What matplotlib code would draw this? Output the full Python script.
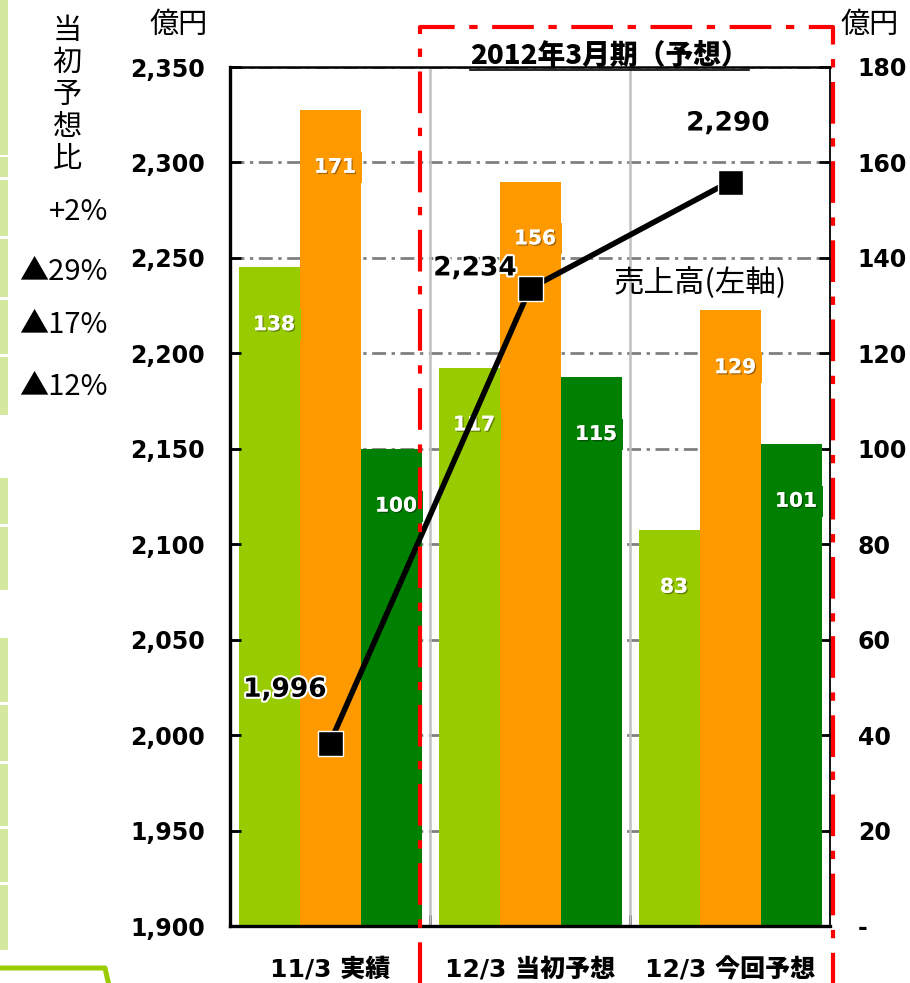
import matplotlib
matplotlib.use('Agg')
import matplotlib.pyplot as plt
import matplotlib.patheffects as pe
from matplotlib.lines import Line2D
from matplotlib.patches import Rectangle
import numpy as np

plt.rcParams['font.family'] = ['DejaVu Sans', 'Noto Sans CJK JP']

# データ
categories = ['11/3 実績', '12/3 当初予想', '12/3 今回予想']
sales = [1996, 2234, 2290]          # 売上高 (左軸, 億円)
seg_a = [138, 117, 83]              # 黄緑 (右軸)
seg_b = [171, 156, 129]             # オレンジ
seg_c = [100, 115, 101]             # 濃い緑
change_labels = ['+2%', '▲29%', '▲17%', '▲12%']

left_ticks = list(range(1900, 2351, 50))
right_ticks = list(range(0, 181, 20))

W, H = 910, 983
fig = plt.figure(figsize=(W / 100, H / 100), dpi=100)
jp = ['Noto Sans CJK JP', 'DejaVu Sans']


def fx(px):
    return px / W


def fy(py):
    return 1 - py / H


ax = fig.add_axes([fx(230), fy(926), fx(830) - fx(230), fy(67) - fy(926)])
ax2 = ax.twinx()

# 棒グラフ (右軸)
x = np.arange(len(categories))
w = 0.305
cols = ['#99cc00', '#ff9900', '#008000']
for off, vals, c in zip([-w, 0, w], [seg_a, seg_b, seg_c], cols):
    ax.bar(x + off, vals, width=w, color=c, zorder=2)
    for xi, v in zip(x + off, vals):
        t = ax.text(xi + 0.025, v - 12, str(v), ha='center', va='center',
                    color='white', fontweight='bold', fontsize=14.5, zorder=3,
                    bbox=dict(boxstyle='square,pad=0.3', fc=c, ec='none'))
        t.set_path_effects([pe.withSimplePatchShadow(offset=(1, -1), shadow_rgbFace='black', alpha=0.35),
                            pe.Normal()])

ax.set_xlim(-0.5, 2.5)
ax.set_ylim(0, 180)
ax.set_axisbelow(True)
ax.grid(axis='y', color='#808080', linestyle=(0, (5, 2, 1.2, 2)), linewidth=2)
for v in [0.5, 1.5]:
    ax.axvline(v, color='#c0c0c0', linewidth=1.8, zorder=1)

ax.yaxis.tick_right()
ax.set_yticks(right_ticks)
ax.set_yticklabels(['-'] + [str(v) for v in right_ticks[1:]], fontweight='bold')
ax.tick_params(axis='y', direction='in', length=8, width=2, pad=20, labelsize=17)
ax.set_xticks(x)
ax.set_xticklabels(categories, fontweight='heavy', fontsize=18)
ax.tick_params(axis='x', length=0, pad=23)
ax.set_xticks([0.5, 1.5], minor=True)
ax.tick_params(axis='x', which='minor', direction='in', length=8, width=2)
for s in ax.spines.values():
    s.set_visible(False)

# 売上高 (左軸)
ax2.set_ylim(1900, 2350)
ax2.yaxis.tick_left()
ax2.set_yticks(left_ticks)
ax2.set_yticklabels([f'{v:,}' for v in left_ticks], fontweight='bold')
ax2.tick_params(axis='y', direction='in', length=8, width=2, pad=18, labelsize=17)
ax2.plot(x, sales, color='black', linewidth=4, marker='s', markersize=18,
         markeredgecolor='white', markeredgewidth=1, zorder=5)
for xi, v, (dx, dy) in zip(x, sales, [(-45, 53), (-55, 20), (-2, 58)]):
    ax2.annotate(f'{v:,}', (xi, v), xytext=(dx, dy), textcoords='offset pixels',
                 ha='center', va='center', fontsize=19, fontweight='heavy',
                 path_effects=[pe.withStroke(linewidth=3, foreground='white')])
ax2.text(1.85, 2237, '売上高(左軸)', ha='center', va='center', fontsize=22, family=jp)

ax2.spines['left'].set_linewidth(2.4)
ax2.spines['bottom'].set_linewidth(2.4)
ax2.spines['top'].set_linewidth(1.8)
ax2.spines['right'].set_linewidth(1.3)

# 単位
fig.text(fx(179), fy(25), '億円', ha='center', va='center', fontsize=21, family=jp)
fig.text(fx(870), fy(25), '億円', ha='center', va='center', fontsize=21, family=jp)

# 予想期間の枠
fig.text(fx(609), fy(56), '2012年3月期（予想）', ha='center', va='center', fontsize=20,
         fontweight='heavy', family=jp)
fig.add_artist(Line2D([fx(470), fx(749)], [fy(70), fy(70)], color='black', linewidth=1.2))
fig.add_artist(Line2D([fx(420), fx(420), fx(833), fx(833)], [fy(1000), fy(27), fy(27), fy(1000)],
                      color='red', linewidth=3, linestyle=(0, (10, 3.5, 2, 3.5)), zorder=10))

# 当初予想比
fig.text(fx(67), fy(95), '当\n初\n予\n想\n比', ha='center', va='center', fontsize=21,
         linespacing=1.08, family=jp)
for lbl, py in zip(change_labels, [212, 272, 325, 387]):
    fig.text(fx(108), fy(py), lbl, ha='right', va='center', fontsize=21, family=jp)

# 左端の装飾
for y0, y1 in [(0, 155), (157, 177), (180, 236), (239, 297), (300, 354), (357, 415),
               (478, 524), (527, 590), (638, 702), (705, 761), (764, 826), (829, 882), (885, 950)]:
    fig.add_artist(Rectangle((0, fy(y1)), fx(8), fy(y0) - fy(y1), color='#d5e89f', lw=0))
fig.add_artist(Line2D([0, fx(105), fx(110)], [fy(968), fy(968), fy(990)],
                      color='#99cc00', linewidth=3.6))

fig.savefig('out.png', dpi=100)
